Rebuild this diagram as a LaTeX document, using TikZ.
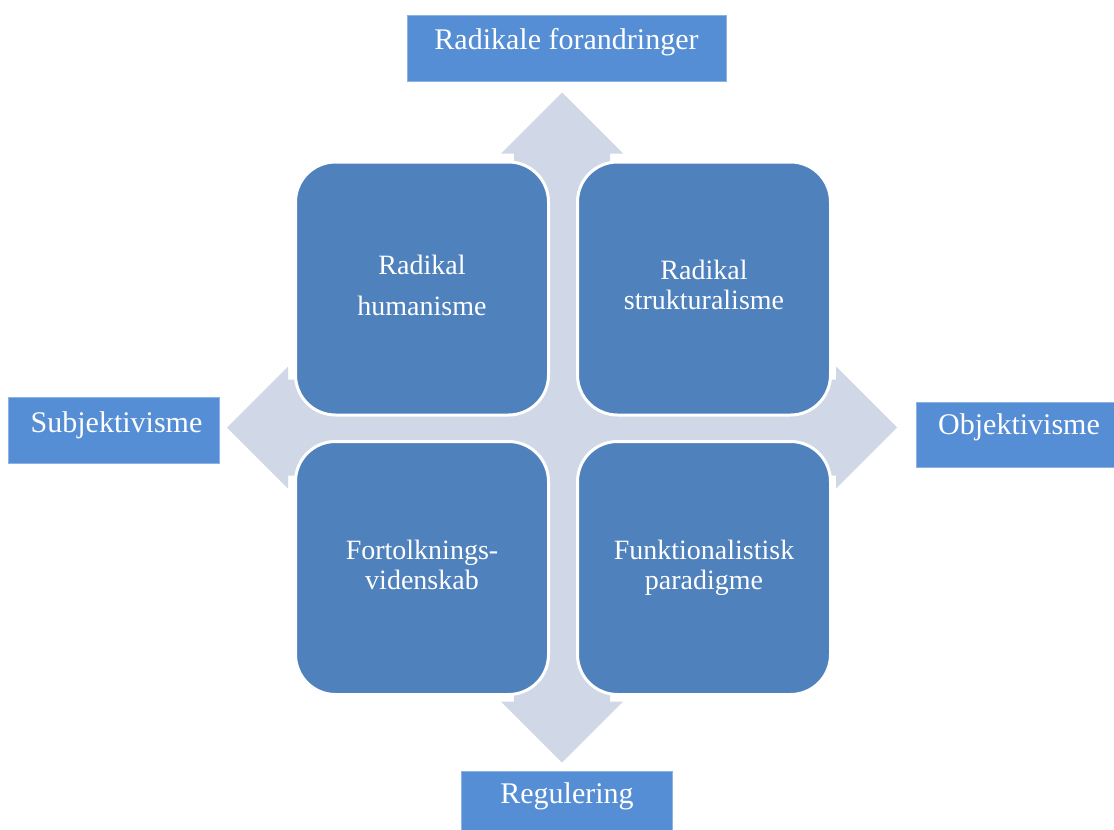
\documentclass[tikz,border=0pt]{standalone}
\usepackage{fontspec}
\setmainfont{Liberation Serif}
\definecolor{cellblue}{HTML}{4F81BD}
\definecolor{tagblue}{HTML}{558ED5}
\definecolor{tagedge}{HTML}{8DB3E2}
\definecolor{arrowgrey}{HTML}{D0D8E8}
\begin{document}
\begin{tikzpicture}[x=1pt,y=-1pt,
  cell/.style={draw=white, line width=3pt, fill=cellblue, rounded corners=40pt,
    minimum width=253pt, minimum height=253pt, inner sep=0pt},
  celltext/.style={text=white, align=center, inner sep=0pt,
    font=\fontsize{28}{30}\selectfont},
  tag/.style={draw=tagedge, line width=0.8pt, fill=tagblue, inner sep=0pt},
  tagtext/.style={text=white, anchor=base, inner sep=0pt,
    font=\fontsize{30}{34}\selectfont}]
\clip (0,0) rectangle (1114,830);

% four-way arrow behind the grid
\begin{scope}[shift={(562,427.5)}]
  \fill[arrowgrey] (0,-335) -- (61,-274) -- (48,-274) -- (48,-48) -- (274,-48)
    -- (274,-61) -- (335,0) -- (274,61) -- (274,48) -- (48,48) -- (48,274)
    -- (61,274) -- (0,335) -- (-61,274) -- (-48,274) -- (-48,48) -- (-274,48)
    -- (-274,61) -- (-335,0) -- (-274,-61) -- (-274,-48) -- (-48,-48)
    -- (-48,-274) -- (-61,-274) -- cycle;
\end{scope}

% the four quadrants
\node[cell] (tl) at (422,288.5) {};
\node[cell] (tr) at (704,288.5) {};
\node[cell] (bl) at (422,568) {};
\node[cell] (br) at (704,568) {};

\node[celltext, font=\fontsize{28}{41}\selectfont] (tl-t) at ([yshift=3.5pt]tl.center) {Radikal\\humanisme};
\node[celltext] (tr-t) at ([yshift=4pt]tr.center) {Radikal\\strukturalisme};
\node[celltext] (bl-t) at ([yshift=3.5pt]bl.center) {Fortolknings-\\videnskab};
\node[celltext] (br-t) at ([yshift=0.5pt]br.center) {Funktionalistisk\\paradigme};

% axis labels
\node[tag, minimum width=319pt, minimum height=66pt] (top) at (566.5,48) {};
\node[tag, minimum width=211pt, minimum height=66pt] (left) at (113.5,430) {};
\node[tag, minimum width=211pt, minimum height=65pt] (right) at (1021.5,434.5) {};
\node[tag, minimum width=211pt, minimum height=66pt] (bottom) at (566.5,804) {};

\node[tagtext] (top-t) at (566.5,49) {Radikale forandringer};
\node[tagtext] (left-t) at (116.5,432) {Subjektivisme};
\node[tagtext] (right-t) at (1019,434) {Objektivisme};
\node[tagtext] (bottom-t) at (567,803) {Regulering};
\end{tikzpicture}
\end{document}
